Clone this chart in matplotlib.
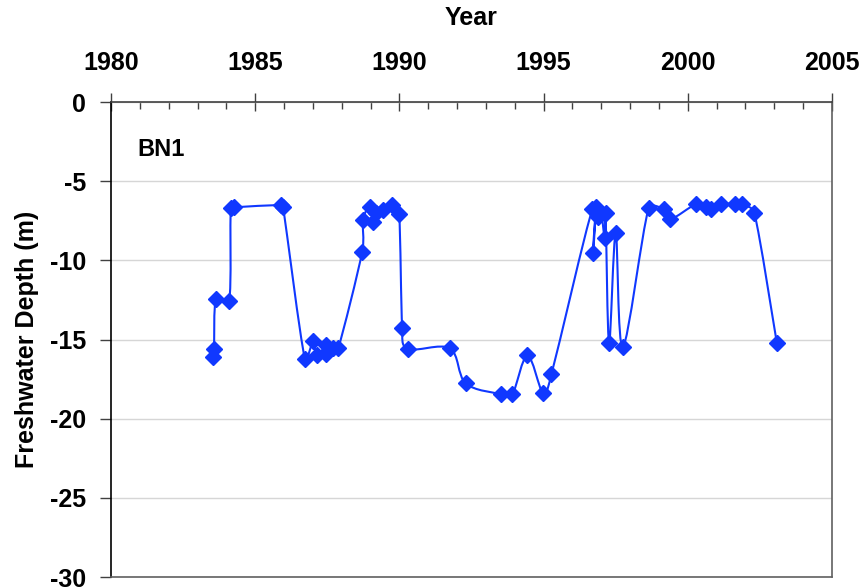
import numpy as np
import matplotlib.pyplot as plt
from matplotlib.ticker import MultipleLocator
from matplotlib.path import Path
from matplotlib.patches import PathPatch

plt.rcParams['font.family'] = ['Liberation Sans', 'DejaVu Sans']
plt.rcParams['font.weight'] = 'bold'
plt.rcParams['axes.unicode_minus'] = False

# well BN1 freshwater depth readings (decimal year, metres)
years = [1983.52, 1983.57, 1983.64, 1984.10, 1984.15, 1984.26, 1985.91, 1985.97,
         1986.72, 1987.01, 1987.13, 1987.47, 1987.47, 1987.70, 1987.88,
         1988.71, 1988.74, 1988.97, 1989.09, 1989.20, 1989.44, 1989.76, 1989.99,
         1990.10, 1990.30, 1991.75, 1992.30, 1993.54, 1993.92, 1994.44, 1994.98,
         1995.27, 1996.69, 1996.71, 1996.83, 1996.89, 1997.00, 1997.12, 1997.15,
         1997.27, 1997.50, 1997.75, 1998.64, 1999.16, 1999.39, 2000.29, 2000.64,
         2000.81, 2001.16, 2001.65, 2001.89, 2002.31, 2003.09]
depth = [-16.1, -15.6, -12.45, -12.57, -6.68, -6.65, -6.5, -6.65,
         -16.2, -15.1, -16.0, -15.35, -15.9, -15.56, -15.56,
         -9.45, -7.45, -6.6, -7.55, -7.0, -6.8, -6.5, -7.1,
         -14.3, -15.6, -15.56, -17.77, -18.45, -18.45, -16.0, -18.4,
         -17.2, -6.78, -9.52, -6.6, -7.24, -7.03, -8.6, -7.03,
         -15.25, -8.3, -15.46, -6.72, -6.78, -7.41, -6.44, -6.6,
         -6.78, -6.44, -6.44, -6.44, -7.03, -15.25]

blue = '#1038FF'


def smooth_path(xs, ys, sx, sy, k=1 / 6, cap=0.45):
    # smoothed line as cubic Bezier segments (Catmull-Rom handles, measured on
    # screen and capped against the segment length to avoid overshoot)
    p = np.column_stack([np.asarray(xs) * sx, np.asarray(ys) * sy])
    n = len(p)
    verts = [p[0]]
    codes = [Path.MOVETO]
    for i in range(n - 1):
        seg = np.hypot(*(p[i + 1] - p[i]))
        h1 = (p[i + 1] - p[max(i - 1, 0)]) * k
        h2 = (p[min(i + 2, n - 1)] - p[i]) * k
        for h in (h1, h2):
            L = np.hypot(*h)
            if L > cap * seg and L > 0:
                h *= cap * seg / L
        verts += [p[i] + h1, p[i + 1] - h2, p[i + 1]]
        codes += [Path.CURVE4] * 3
    v = np.array(verts)
    v[:, 0] /= sx
    v[:, 1] /= sy
    return Path(v, codes)


fig = plt.figure(figsize=(8.63, 5.87), dpi=100)
pos = [0.1286, 0.0170, 0.8355, 0.8092]
ax = fig.add_axes(pos)

xlim = (1980, 2005)
ylim = (-30, 0)
px_x = 863 * pos[2] / (xlim[1] - xlim[0])
px_y = 587 * pos[3] / (ylim[1] - ylim[0])

ax.add_patch(PathPatch(smooth_path(years, depth, px_x, px_y), fill=False,
                       edgecolor=blue, lw=1.5, zorder=3))
ax.plot(years, depth, ls='none', marker='D', ms=8.4,
        markerfacecolor=blue, markeredgecolor=blue, zorder=4)

ax.set_xlim(*xlim)
ax.set_ylim(*ylim)
ax.xaxis.set_major_locator(MultipleLocator(5))
ax.xaxis.set_minor_locator(MultipleLocator(1))
ax.yaxis.set_major_locator(MultipleLocator(5))

ax.xaxis.tick_top()
ax.xaxis.set_label_position('top')
ax.tick_params(axis='x', which='major', direction='inout', length=13, width=1,
               pad=13, labelsize=18, color='#404040')
ax.tick_params(axis='x', which='minor', direction='in', length=5, width=1,
               color='#404040')
ax.tick_params(axis='y', direction='out', length=8, width=1, pad=10,
               labelsize=18, color='#404040')
ax.set_xlabel('Year', fontsize=18, fontweight='bold', labelpad=19)
ax.set_ylabel('Freshwater Depth (m)', fontsize=18, fontweight='bold', labelpad=8)

ax.grid(axis='y', color='#D6D6D6', lw=1)
ax.set_axisbelow(True)

ax.spines['left'].set_color('black')
ax.spines['top'].set_color('#404040')
ax.spines['right'].set_color('#606060')
ax.spines['bottom'].set_color('#606060')
for s in ax.spines.values():
    s.set_linewidth(1.2)

ax.text(0.036, 0.899, 'BN1', transform=ax.transAxes, fontsize=17,
        fontweight='bold', va='center', ha='left')

plt.savefig('out.png', dpi=100)
